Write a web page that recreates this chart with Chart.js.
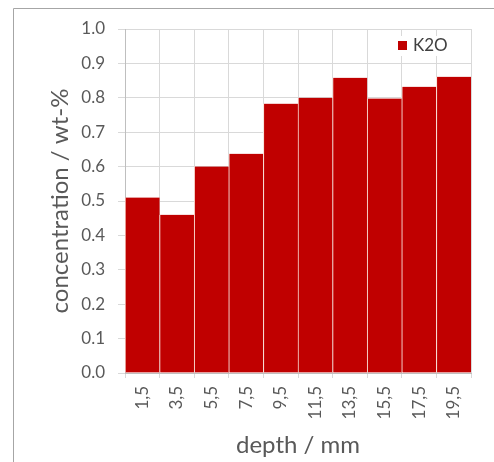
<!DOCTYPE html>
<html>
<head>
<meta charset="utf-8">
<script src="https://cdn.jsdelivr.net/npm/chart.js@4/dist/chart.umd.min.js"></script>
<style>
  html, body { margin: 0; padding: 0; background: #ffffff; }
  #wrap { width: 494px; height: 462px; }
</style>
</head>
<body>
<div id="wrap"><canvas id="chart" width="494" height="462"></canvas></div>
<script>
// Depth profile of K2O concentration
const depths = ['1,5', '3,5', '5,5', '7,5', '9,5', '11,5', '13,5', '15,5', '17,5', '19,5'];
const k2o = [0.51, 0.46, 0.60, 0.637, 0.783, 0.80, 0.858, 0.798, 0.832, 0.861];
const seriesName = 'K2O';
const yTicks = [0.0, 0.1, 0.2, 0.3, 0.4, 0.5, 0.6, 0.7, 0.8, 0.9, 1.0];

const FONT = 'Lato, "Open Sans", sans-serif';
const TEXT = '#595959';
const BAR = '#c00000';

// Frame around the chart and a legend placed inside the plot area
const framePlugin = {
  id: 'frame',
  beforeDraw(chart) {
    const ctx = chart.ctx;
    ctx.save();
    ctx.strokeStyle = '#a6a6a6';
    ctx.lineWidth = 1;
    ctx.beginPath();
    ctx.moveTo(13.5, chart.height);
    ctx.lineTo(13.5, 8.5);
    ctx.lineTo(chart.width, 8.5);
    ctx.stroke();
    ctx.restore();
  },
  afterDraw(chart) {
    const ctx = chart.ctx;
    const ds = chart.data.datasets[0];
    const area = chart.chartArea;
    const x = area.right - 73, y = area.top + 12;
    ctx.save();
    ctx.fillStyle = '#ffffff';
    ctx.fillRect(x - 4, y - 5, 62, 20);
    ctx.fillStyle = ds.backgroundColor;
    ctx.fillRect(x, y, 9, 9);
    ctx.fillStyle = '#404040';
    ctx.font = '17px ' + FONT;
    ctx.textBaseline = 'middle';
    ctx.fillText(ds.label, x + 15, y + 5);
    ctx.restore();
  }
};

new Chart(document.getElementById('chart'), {
  type: 'bar',
  data: {
    labels: depths,
    datasets: [{
      label: seriesName,
      data: k2o,
      backgroundColor: BAR,
      borderColor: 'rgba(255, 232, 222, 0.95)',
      borderWidth: { left: 1, right: 0, top: 0, bottom: 0 },
      borderSkipped: false,
      barPercentage: 1,
      categoryPercentage: 1
    }]
  },
  options: {
    responsive: false,
    animation: false,
    devicePixelRatio: 1,
    layout: { padding: { left: 34, top: 29, right: 23, bottom: 0 } },
    plugins: {
      legend: { display: false },
      tooltip: { enabled: false }
    },
    scales: {
      x: {
        grid: { color: '#d9d9d9', offset: true, tickLength: 5, drawTicks: true },
        border: { color: '#bfbfbf' },
        ticks: {
          color: TEXT,
          font: { family: FONT, size: 17 },
          minRotation: 90,
          maxRotation: 90,
          padding: 8,
          autoSkip: false
        },
        title: {
          display: true,
          text: 'depth / mm',
          color: TEXT,
          font: { family: FONT, size: 24 },
          padding: { top: 0, bottom: 2 }
        },
        afterFit(scale) { scale.height = 89; }
      },
      y: {
        min: 0,
        max: 1,
        grid: { color: '#d9d9d9', tickLength: 7 },
        border: { color: '#bfbfbf' },
        afterBuildTicks(scale) { scale.ticks = yTicks.map(v => ({ value: v })); },
        ticks: {
          color: TEXT,
          font: { family: FONT, size: 17 },
          padding: 13,
          callback: v => Number(v).toFixed(1)
        },
        title: {
          display: true,
          text: 'concentration / wt-%',
          color: TEXT,
          font: { family: FONT, size: 24 },
          padding: { top: 12, bottom: 0 }
        },
        afterFit(scale) { scale.width = 91; }
      }
    }
  },
  plugins: [framePlugin]
});
</script>
</body>
</html>
